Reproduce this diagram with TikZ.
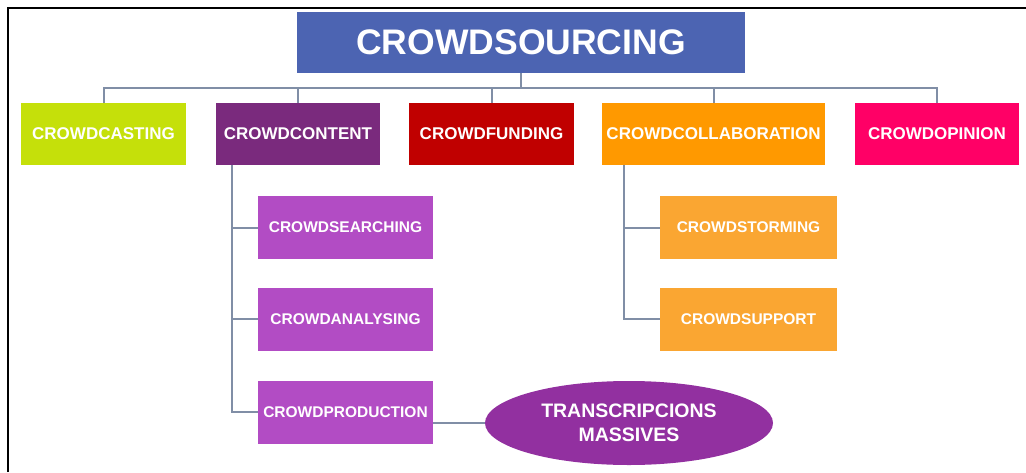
\documentclass[tikz,border=0pt]{standalone}
\usepackage{fontspec}
\setmainfont{Liberation Sans}
\usetikzlibrary{shapes.geometric}
\definecolor{cblue}{RGB}{76,100,178}
\definecolor{clink}{RGB}{128,142,166}
\definecolor{clime}{RGB}{197,224,10}
\definecolor{cplum}{RGB}{122,42,125}
\definecolor{cred}{RGB}{192,0,0}
\definecolor{corange}{RGB}{255,153,0}
\definecolor{cpink}{RGB}{255,0,102}
\definecolor{cmag}{RGB}{178,76,196}
\definecolor{clorange}{RGB}{250,166,50}
\definecolor{cellip}{RGB}{146,48,160}
\tikzset{
  box/.style={rectangle, inner sep=0pt, text=white, font=\bfseries\fontsize{17}{18}\selectfont, minimum height=62pt},
  subbox/.style={rectangle, inner sep=0pt, text=white, font=\bfseries\fontsize{15.5}{18}\selectfont, minimum height=63pt},
  link/.style={draw=clink, line width=2pt},
  frame/.style={draw=black, line width=2pt}
}
\begin{document}
\begin{tikzpicture}[x=1pt,y=-1pt]
\useasboundingbox (0,0) rectangle (1026,472);
\coordinate (ftl) at (8,8);
\coordinate (ftr) at (1026,8);
\coordinate (fbl) at (8,472);
\draw[frame] (fbl) -- (ftl) -- (ftr);

\node[box, fill=cblue, minimum width=448pt, minimum height=61pt, font=\bfseries\fontsize{35.5}{40}\selectfont] (top) at (521,42.5) {CROWDSOURCING};

\node[box, fill=clime, minimum width=165pt] (cast) at (103.5,134) {CROWDCASTING};
\node[box, fill=cplum, minimum width=164pt] (content) at (298,134) {CROWDCONTENT};
\node[box, fill=cred, minimum width=165pt] (funding) at (491.5,134) {CROWDFUNDING};
\node[box, fill=corange, minimum width=223pt] (collab) at (713.5,134) {CROWDCOLLABORATION};
\node[box, fill=cpink, minimum width=164pt] (opinion) at (937,134) {CROWDOPINION};

\node[subbox, fill=cmag, minimum width=175pt] (search) at (345.5,227.5) {CROWDSEARCHING};
\node[subbox, fill=cmag, minimum width=175pt] (analys) at (345.5,319) {CROWDANALYSING};
\node[subbox, fill=cmag, minimum width=175pt] (prod) at (345.5,412) {CROWDPRODUCTION};

\node[subbox, fill=clorange, minimum width=177pt] (storm) at (748.5,227.5) {CROWDSTORMING};
\node[subbox, fill=clorange, minimum width=177pt] (support) at (748.5,319) {CROWDSUPPORT};

\node[ellipse, fill=cellip, inner sep=0pt, minimum width=288pt, minimum height=84pt, text=white, align=center, font=\bfseries\fontsize{19.5}{24}\selectfont] (trans) at (629,423) {TRANSCRIPCIONS\\MASSIVES};

% bus
\coordinate (bus) at (521,88);
\draw[link] (top.south) -- (bus);
\draw[link] (cast.north) |- (bus) -| (opinion.north);
\foreach \n in {content,funding,collab} \draw[link] (\n.north) -- (\n.north |- bus);

% content children
\coordinate (cspine) at (232,165);
\draw[link] (cspine) |- (prod.west);
\draw[link] (cspine |- search.west) -- (search.west);
\draw[link] (cspine |- analys.west) -- (analys.west);

% collaboration children
\coordinate (lspine) at (624,165);
\draw[link] (lspine) |- (support.west);
\draw[link] (lspine |- storm.west) -- (storm.west);

% production to ellipse
\draw[link] (prod.east |- trans.west) -- (trans.west);
\end{tikzpicture}
\end{document}
